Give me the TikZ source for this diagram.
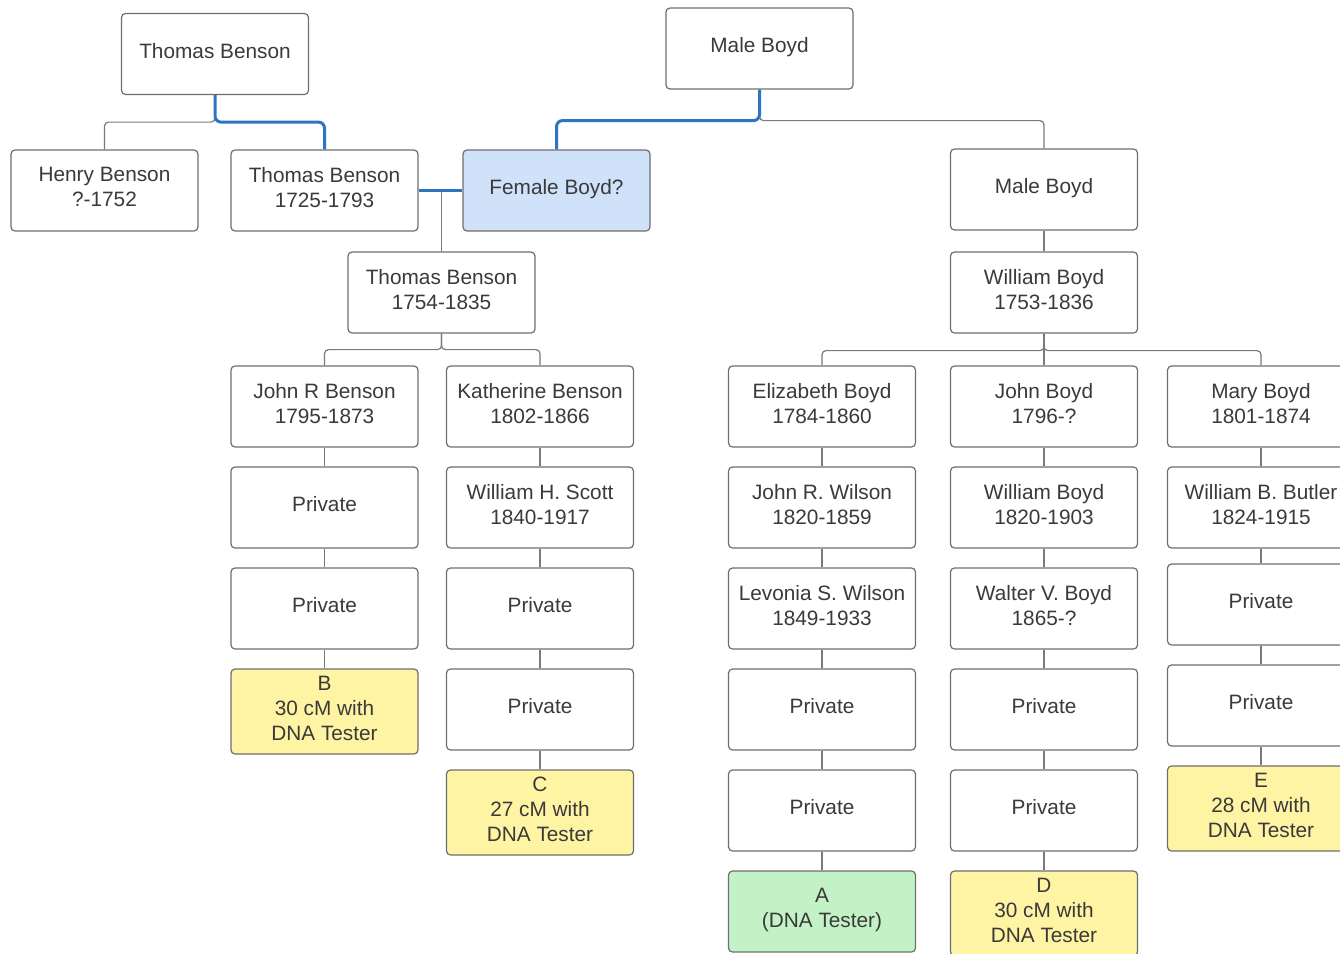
\documentclass[tikz,border=0pt]{standalone}
\usepackage{fontspec}
\setmainfont{Liberation Sans}
\usepackage{tikz}
\usetikzlibrary{positioning}
\definecolor{linegray}{HTML}{7A7A7A}
\definecolor{boxgray}{HTML}{6E6E6E}
\definecolor{textgray}{HTML}{3A3A3A}
\definecolor{linkblue}{HTML}{2F74C0}
\definecolor{paleblue}{HTML}{CFE2F9}
\definecolor{paleyellow}{HTML}{FFF4A3}
\definecolor{palegreen}{HTML}{C2F2C6}

\tikzset{
  person/.style={draw=boxgray, line width=0.6pt, rounded corners=2pt, fill=white,
    minimum width=93.5pt, minimum height=40.5pt, inner sep=2pt, align=center,
    text depth=3.5pt, text=textgray, font=\fontsize{10.4}{12.5}\selectfont},
  tester/.style={person, fill=paleyellow, minimum height=42.5pt},
  kin/.style={draw=linegray, line width=0.6pt, rounded corners=2pt},
  spouse/.style={draw=linkblue, line width=1.5pt, rounded corners=3pt}
}

\begin{document}
\begin{tikzpicture}[x=0.5pt, y=-0.5pt, node distance=9.4pt]
  \useasboundingbox (0,0) rectangle (1340,954);
  \clip (0,0) rectangle (1340,954);

  % top generations
  \node[person] (tb0) at (215,54) {Thomas Benson};
  \node[person] (mb0) at (759.5,48.5) {Male Boyd};
  \node[person] (henry) at (104.5,190.5) {Henry Benson\\?-1752};
  \node[person] (tb1) at (324.5,190.5) {Thomas Benson\\1725-1793};
  \node[person, fill=paleblue] (fboyd) at (556.5,190.5) {Female Boyd?};
  \node[person] (mb1) at (1044,189.5) {Male Boyd};
  \node[person] (tb2) at (441.5,292.5) {Thomas Benson\\1754-1835};
  \node[person] (wb1) at (1044,292.5) {William Boyd\\1753-1836};

  % children row
  \node[person] (john) at (324.5,406.5) {John R Benson\\1795-1873};
  \node[person] (kath) at (540,406.5) {Katherine Benson\\1802-1866};
  \node[person] (eliz) at (822,406.5) {Elizabeth Boyd\\1784-1860};
  \node[person] (jboyd) at (1044,406.5) {John Boyd\\1796-?};
  \node[person] (mary) at (1261,406.5) {Mary Boyd\\1801-1874};

  % John R Benson line
  \node[person, below=of john] (jpriv1) {Private};
  \node[person, below=of jpriv1] (jpriv2) {Private};
  \node[tester, below=of jpriv2] (testb) {B\\30 cM with\\DNA Tester};

  % Katherine Benson line
  \node[person, below=of kath] (scott) {William H. Scott\\1840-1917};
  \node[person, below=of scott] (kpriv1) {Private};
  \node[person, below=of kpriv1] (kpriv2) {Private};
  \node[tester, below=of kpriv2] (testc) {C\\27 cM with\\DNA Tester};

  % Elizabeth Boyd line
  \node[person, below=of eliz] (jwilson) {John R. Wilson\\1820-1859};
  \node[person, below=of jwilson] (lwilson) {Levonia S. Wilson\\1849-1933};
  \node[person, below=of lwilson] (epriv1) {Private};
  \node[person, below=of epriv1] (epriv2) {Private};
  \node[person, fill=palegreen, below=of epriv2] (testa) {A\\(DNA Tester)};

  % John Boyd line
  \node[person, below=of jboyd] (wboyd) {William Boyd\\1820-1903};
  \node[person, below=of wboyd] (walter) {Walter V. Boyd\\1865-?};
  \node[person, below=of walter] (bpriv1) {Private};
  \node[person, below=of bpriv1] (bpriv2) {Private};
  \node[tester, below=of bpriv2] (testd) {D\\30 cM with\\DNA Tester};

  % Mary Boyd line
  \node[person, below=of mary] (butler) {William B. Butler\\1824-1915};
  \node[person, below=of butler, yshift=2pt] (mpriv1) {Private};
  \node[person, below=of mpriv1] (mpriv2) {Private};
  \node[tester, below=of mpriv2] (teste) {E\\28 cM with\\DNA Tester};

  % parents to children
  \draw[kin] (tb0.south) -- ++(0,27) -| (henry.north);
  \draw[spouse] (tb0.south) -- ++(0,27) -| (tb1.north);
  \draw[kin] (mb0.south) -- ++(0,31) -| (mb1.north);
  \draw[spouse] (mb0.south) -- ++(0,31) -| (fboyd.north);
  \draw[kin] (tb2.north) -- (tb2.north |- tb1.east);
  \draw[spouse] (tb1.east) -- (fboyd.west);
  \draw[kin] (mb1) -- (wb1);
  \draw[kin] (tb2.south) -- ++(0,16) -| (john.north);
  \draw[kin] (tb2.south) -- ++(0,16) -| (kath.north);
  \draw[kin] (wb1.south) -- ++(0,17) -| (eliz.north);
  \draw[kin] (wb1.south) -- ++(0,17) -| (mary.north);
  \draw[kin] (wb1) -- (jboyd);

  % descent lines
  \draw[kin] (john) -- (jpriv1) -- (jpriv2) -- (testb);
  \draw[kin] (kath) -- (scott) -- (kpriv1) -- (kpriv2) -- (testc);
  \draw[kin] (eliz) -- (jwilson) -- (lwilson) -- (epriv1) -- (epriv2) -- (testa);
  \draw[kin] (jboyd) -- (wboyd) -- (walter) -- (bpriv1) -- (bpriv2) -- (testd);
  \draw[kin] (mary) -- (butler) -- (mpriv1) -- (mpriv2) -- (teste);
\end{tikzpicture}
\end{document}
